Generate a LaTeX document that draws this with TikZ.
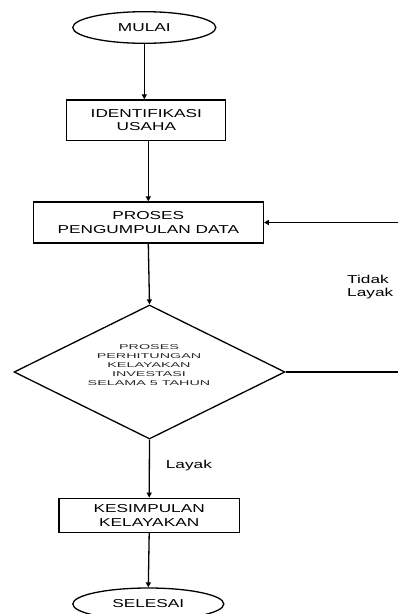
\documentclass[tikz,border=0pt]{standalone}
\usepackage{fontspec}
\setmainfont{Liberation Sans}
\usepackage{graphicx}
\usetikzlibrary{shapes.geometric,arrows.meta}
\newcommand\sx[1]{\scalebox{1.5}[1]{#1}}
\newcommand\sd[1]{\scalebox{2.05}[1]{#1}}
\tikzset{
  base/.style={draw=black, line width=1.3pt, inner sep=0pt, align=center,
    font=\fontsize{11.5}{13.4}\selectfont},
  term/.style={base, ellipse},
  proc/.style={base, rectangle},
  dec/.style={base, diamond},
  lbl/.style={inner sep=0pt, align=left, font=\fontsize{11.5}{13}\selectfont},
  dtxt/.style={inner sep=0pt, align=center, font=\fontsize{7}{9}\selectfont, text=black!85},
  arr/.style={line width=1.3pt, -{Triangle[length=5pt,width=5pt]}},
  ln/.style={line width=1.3pt}
}
\begin{document}
\begin{tikzpicture}[x=1pt,y=-1pt]
\useasboundingbox (0,0) rectangle (398,614);
\node[term, minimum width=143pt, minimum height=31.6pt] (mulai) at (144.3,27.5) {\sx{MULAI}};
\node[proc, minimum width=159pt, minimum height=40.7pt] (ident) at (146.3,120.3) {\sx{IDENTIFIKASI}\\\sx{USAHA}};
\node[proc, minimum width=230pt, minimum height=41pt] (proses) at (148.3,222.5) {\sx{PROSES}\\\sx{PENGUMPULAN DATA}};
\node[dec, minimum width=271pt, minimum height=134pt] (hitung) at (149.5,372) {};
\node[dtxt] (hitungtxt) at (149,365) {\sd{PROSES}\\\sd{PERHITUNGAN}\\\sd{KELAYAKAN}\\\sd{INVESTASI}\\\sd{SELAMA 5 TAHUN}};
\node[proc, minimum width=180.3pt, minimum height=34pt] (kes) at (149.2,515.3) {\sx{KESIMPULAN}\\\sx{KELAYAKAN}};
\node[term, minimum width=151pt, minimum height=32pt] (selesai) at (148.3,604) {\sx{SELESAI}};
\node[lbl, anchor=west] (tidak) at (347,287) {\sx{Tidak}\\\sx{Layak}};
\node[lbl, anchor=west] (layak) at (165.7,466) {\sx{Layak}};
\coordinate (edgeA) at (398,225);
\coordinate (edgeB) at (398,373);
\draw[arr] (mulai) -- (mulai |- ident.north);
\draw[arr] (proses.north |- ident.south) -- (proses.north);
\draw[arr] (proses.south) -- (hitung.north);
\draw[arr] (hitung.south) -- (kes.north);
\draw[arr] (kes.south) -- (selesai.north);
\draw[arr] (proses.east -| edgeA) -- (proses.east);
\draw[ln] (hitung.east) -- (hitung.east -| edgeB);
\end{tikzpicture}
\end{document}
